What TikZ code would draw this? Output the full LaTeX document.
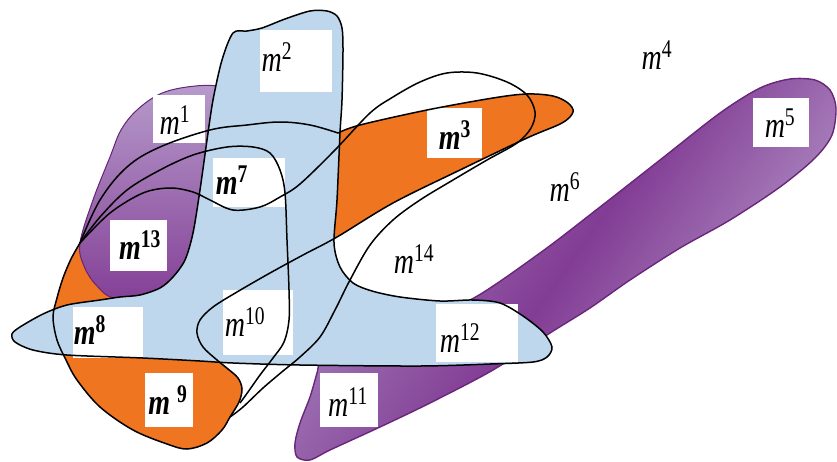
\documentclass[tikz,border=0pt]{standalone}
\usepackage{graphicx}
\usepackage{fontspec}
\setmainfont{Liberation Serif}
\definecolor{setblue}{RGB}{190,215,237}
\definecolor{setorange}{RGB}{239,117,33}
\definecolor{purpdark}{RGB}{130,60,148}
\definecolor{purplight}{RGB}{186,162,207}
\definecolor{purpmid}{RGB}{170,140,194}
\definecolor{purpedge}{RGB}{105,38,122}
\newcommand\mlab[1]{\scalebox{1}[1.3]{\textit{m}\textsuperscript{#1}}}
\newcommand\mlabb[1]{\scalebox{1}[1.3]{\textbf{\textit{m}\textsuperscript{#1}}}}
\newcommand\CurveOne{plot[smooth,tension=.6] coordinates {(80,243) (100,200) (127,167) (160,147) (210,130) (247,125) (280,122) (310,125) (338,133)}
 -- plot[smooth,tension=.55] coordinates {(338,133) (360,125) (427,110) (493,98) (527,94) (553,96) (568,103) (573,112) (562,123) (527,138) (460,170) (393,203) (337,237) (303,255) (270,273) (237,292) (213,307) (200,320) (197,333) (203,347) (217,360) (228,369) (238,378) (242,389) (239,402) (230,417) (222,430) (207,443) (187,449) (167,444) (133,430) (100,407) (77,380) (66,360) (57,340) (53,317) (57,298) (63,278) (71,259) (80,243)} -- cycle}
\newcommand\CurveTwo{plot[smooth,tension=.55] coordinates {(80,243) (110,213) (143,193) (170,188) (193,192) (210,200) (233,210) (260,207) (280,197) (300,184) (335,150) (370,113) (393,97) (420,82) (447,73) (477,73) (507,82) (527,95) (535,112) (531,128) (517,143) (487,160) (453,180) (420,200) (393,220) (370,245) (350,280) (335,310) (320,337) (300,357) (283,371) (263,388) (243,407) (230,417)}}
\newcommand\CurveThree{plot[smooth,tension=.55] coordinates {(80,243) (100,217) (127,190) (160,170) (193,155) (227,147) (253,147) (270,153) (280,170) (285,193) (287,240) (289,290) (289,320) (284,342) (273,358) (260,375) (248,392) (240,403)}}
\newcommand\BlueShape{plot[smooth cycle,tension=.5] coordinates {(233,33) (247,31) (262,28) (285,19) (310,11) (327,11) (337,16) (342,28) (343,50) (342,100) (340,133) (337,200) (334,243) (340,267) (353,283) (372,291) (400,297) (440,301) (473,300) (500,303) (523,316) (543,332) (552,347) (547,357) (533,362) (490,364) (420,366) (300,365) (233,363) (200,361) (143,358) (67,355) (33,350) (15,342) (12,334) (20,327) (43,314) (67,305) (100,300) (120,297) (140,295) (160,288) (173,277) (185,260) (193,233) (200,190) (207,140) (213,100) (222,60)}}
\newcommand\PurpleLobe{plot[smooth cycle,tension=.6] coordinates {(80,243) (93,200) (110,157) (121,130) (137,110) (160,94) (187,87) (217,86) (240,95) (238,250) (170,302) (117,299) (97,286) (84,266)}}
\newcommand\PurpleBand{plot[smooth cycle,tension=.5] coordinates {(297,457) (295,443) (300,423) (310,397) (317,373) (325,345) (360,325) (420,312) (470,300) (540,253) (600,207) (660,160) (720,113) (760,88) (790,79) (815,80) (830,90) (836,108) (832,135) (815,158) (780,187) (730,220) (680,248) (630,280) (590,308) (550,333) (493,370) (430,403) (380,427) (330,450) (310,460)}}
\begin{document}
\begin{tikzpicture}[x=1pt,y=-1pt,
  curve/.style={draw=black, line width=1.5pt},
  lbox/.style={fill=white, draw=none, inner sep=0pt, outer sep=0pt},
  lab/.style={font=\fontsize{28}{30}\selectfont, inner sep=0pt}]
\useasboundingbox (0,0) rectangle (837,461);
% fills
\fill[setorange] \CurveOne;
\fill[top color=purplight, bottom color=purpdark] \PurpleLobe;
\draw[purpedge, line width=1pt] \PurpleLobe;
\fill[left color=purpmid, right color=purplight, middle color=purpdark, shading angle=55] \PurpleBand;
\draw[purpedge, line width=1.4pt] \PurpleBand;
\fill[setblue] \BlueShape;
% label boxes
\node[lbox, minimum width=72pt, minimum height=62pt] (b2) at (296,61) {};
\node[lbox, minimum width=52pt, minimum height=48pt] (b1) at (179,119) {};
\node[lbox, minimum width=72pt, minimum height=49pt] (b7) at (249,182) {};
\node[lbox, minimum width=55pt, minimum height=50pt] (b3) at (454,133) {};
\node[lbox, minimum width=56pt, minimum height=49pt] (b5) at (781,122) {};
\node[lbox, minimum width=57pt, minimum height=51pt] (b13) at (138,245) {};
\node[lbox, minimum width=70pt, minimum height=51pt] (b8) at (108,332) {};
\node[lbox, minimum width=70pt, minimum height=65pt] (b10) at (258,322) {};
\node[lbox, minimum width=82pt, minimum height=58pt] (b12) at (477,333) {};
\node[lbox, minimum width=48pt, minimum height=54pt] (b9) at (169,400) {};
\node[lbox, minimum width=58pt, minimum height=54pt] (b11) at (349,400) {};
% outlines
\draw[curve] \BlueShape;
\draw[curve] \CurveOne;
\draw[curve] \CurveTwo;
\draw[curve] \CurveThree;
% labels
\node[lab] (t1) at (175,120) {\mlab{1}};
\node[lab] (t2) at (277,57) {\mlab{2}};
\node[lab] (t3) at (455,135) {\mlabb{3}};
\node[lab] (t4) at (657,55) {\mlab{4}};
\node[lab] (t5) at (780,123) {\mlab{5}};
\node[lab] (t6) at (565,187) {\mlab{6}};
\node[lab] (t7) at (232,180) {\mlabb{7}};
\node[lab] (t8) at (90,330) {\mlabb{8}};
\node[lab] (t9) at (168,400) {\scalebox{1}[1.3]{\textbf{\textit{m}\hspace{7pt}\textsuperscript{9}}}};
\node[lab] (t10) at (245,322) {\mlab{10}};
\node[lab] (t11) at (348,402) {\mlab{11}};
\node[lab] (t12) at (460,338) {\mlab{12}};
\node[lab] (t13) at (140,245) {\mlabb{13}};
\node[lab] (t14) at (414,259) {\mlab{14}};
\end{tikzpicture}
\end{document}
